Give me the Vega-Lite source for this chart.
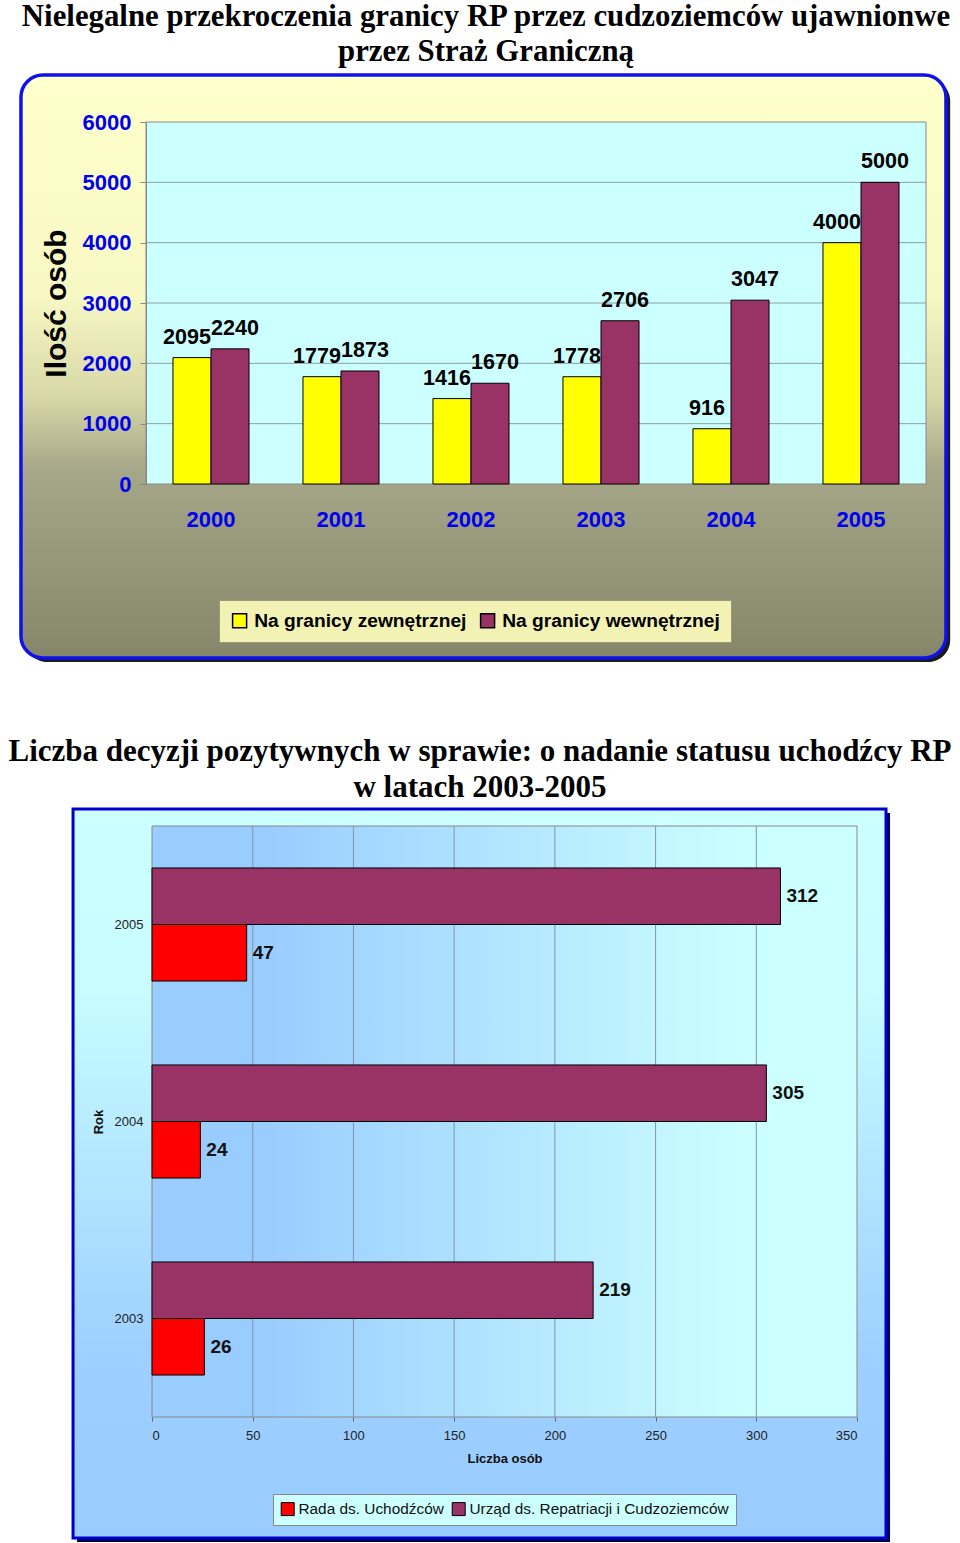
{
  "$schema": "https://vega.github.io/schema/vega-lite/v6.json",
  "background": "white",
  "padding": {"left": 0, "top": 1, "right": 0, "bottom": 0},
  "spacing": 74,
  "center": true,
  "config": {"view": {"stroke": null}, "font": "Liberation Sans"},
  "resolve": {"scale": {"color": "independent"}},
  "datasets": {
    "border": [
      {"year": "2000", "series": "Na granicy zewnętrznej", "value": 2095},
      {"year": "2000", "series": "Na granicy wewnętrznej", "value": 2240},
      {"year": "2001", "series": "Na granicy zewnętrznej", "value": 1779},
      {"year": "2001", "series": "Na granicy wewnętrznej", "value": 1873},
      {"year": "2002", "series": "Na granicy zewnętrznej", "value": 1416},
      {"year": "2002", "series": "Na granicy wewnętrznej", "value": 1670},
      {"year": "2003", "series": "Na granicy zewnętrznej", "value": 1778},
      {"year": "2003", "series": "Na granicy wewnętrznej", "value": 2706},
      {"year": "2004", "series": "Na granicy zewnętrznej", "value": 916},
      {"year": "2004", "series": "Na granicy wewnętrznej", "value": 3047},
      {"year": "2005", "series": "Na granicy zewnętrznej", "value": 4000},
      {"year": "2005", "series": "Na granicy wewnętrznej", "value": 5000}
    ],
    "decyzje": [
      {"year": "2005", "series": "Rada ds. Uchodźców", "value": 47},
      {"year": "2005", "series": "Urząd ds. Repatriacji i Cudzoziemców", "value": 312},
      {"year": "2004", "series": "Rada ds. Uchodźców", "value": 24},
      {"year": "2004", "series": "Urząd ds. Repatriacji i Cudzoziemców", "value": 305},
      {"year": "2003", "series": "Rada ds. Uchodźców", "value": 26},
      {"year": "2003", "series": "Urząd ds. Repatriacji i Cudzoziemców", "value": 219}
    ],
    "grid1": [{"v": 1000}, {"v": 2000}, {"v": 3000}, {"v": 4000}, {"v": 5000}],
    "grid2": [{"v": 50}, {"v": 100}, {"v": 150}, {"v": 200}, {"v": 250}, {"v": 300}],
    "one": [{"k": 1}]
  },
  "vconcat": [
    {
      "title": {
        "text": ["Nielegalne przekroczenia granicy RP przez cudzoziemców ujawnionwe", "przez Straż Graniczną"],
        "font": "Liberation Serif", "fontSize": 30.8, "fontWeight": "bold", "color": "black",
        "lineHeight": 35, "anchor": "middle", "frame": "bounds", "offset": 5
      },
      "width": 780,
      "height": 362,
      "resolve": {"scale": {"x": "independent"}},
      "layer": [
        {
          "data": {"name": "one"},
          "mark": {"type": "rect", "fill": "#ffffff"},
          "encoding": {
            "x": {"datum": -0.17949, "type": "quantitative", "scale": {"domain": [0, 1]}, "axis": null},
            "x2": {"datum": 1.05128},
            "y": {"datum": 6779, "type": "quantitative", "scale": {"domain": [0, 6000]}, "title": "Ilość osób"},
            "y2": {"datum": -2884}
          }
        },
        {
          "data": {"name": "one"},
          "mark": {"type": "rect", "fill": "#1a1a1a", "cornerRadius": 22},
          "encoding": {
            "x": {"datum": -0.155, "type": "quantitative", "scale": {"domain": [0, 1]}, "axis": null},
            "x2": {"datum": 1.031},
            "y": {"datum": 6713, "type": "quantitative", "scale": {"domain": [0, 6000]}, "title": "Ilość osób"},
            "y2": {"datum": -2950}
          }
        },
        {
          "data": {"name": "one"},
          "mark": {
            "type": "rect", "cornerRadius": 22, "stroke": "#1010ee", "strokeWidth": 3.5,
            "fill": {"gradient": "linear", "x1": 0, "y1": 0, "x2": 0, "y2": 1, "stops": [
              {"offset": 0, "color": "#ffffcc"},
              {"offset": 0.38, "color": "#f8f8c4"},
              {"offset": 0.55, "color": "#d8d8a8"},
              {"offset": 0.68, "color": "#a6a688"},
              {"offset": 1, "color": "#86866a"}
            ]}
          },
          "encoding": {
            "x": {"datum": -0.1603, "type": "quantitative", "scale": {"domain": [0, 1]}, "axis": null},
            "x2": {"datum": 1.0256},
            "y": {"datum": 6779, "type": "quantitative", "scale": {"domain": [0, 6000]}, "title": "Ilość osób"},
            "y2": {"datum": -2884}
          }
        },
        {
          "data": {"name": "one"},
          "mark": {"type": "rect", "fill": "#ccffff", "stroke": "#888888", "strokeWidth": 1},
          "encoding": {
            "x": {"datum": 0, "type": "quantitative", "scale": {"domain": [0, 1]}, "axis": null},
            "x2": {"datum": 1},
            "y": {"datum": 0, "type": "quantitative", "scale": {"domain": [0, 6000]}, "title": "Ilość osób"},
            "y2": {"datum": 6000}
          }
        },
        {
          "data": {"name": "grid1"},
          "mark": {"type": "rule", "color": "#8aa0a0", "strokeWidth": 1},
          "encoding": {
            "y": {"field": "v", "type": "quantitative", "scale": {"domain": [0, 6000]}, "title": "Ilość osób"},
            "x": {"datum": 0, "type": "quantitative", "scale": {"domain": [0, 1]}, "axis": null},
            "x2": {"datum": 1}
          }
        },
        {
          "data": {"name": "border"},
          "mark": {"type": "bar", "stroke": "black", "strokeWidth": 1},
          "encoding": {
            "x": {
              "field": "year", "type": "nominal",
              "scale": {"paddingInner": 0.415, "paddingOuter": 0.2075},
              "axis": {
                "title": null, "labelAngle": 0, "ticks": false, "domain": false,
                "labelFont": "Liberation Sans", "labelFontSize": 22, "labelFontWeight": "bold",
                "labelColor": "#0000ee", "labelPadding": 25, "zindex": 1
              }
            },
            "xOffset": {"field": "series", "type": "nominal", "sort": ["Na granicy zewnętrznej", "Na granicy wewnętrznej"]},
            "y": {
              "field": "value", "type": "quantitative", "title": "Ilość osób",
              "scale": {"domain": [0, 6000]},
              "axis": {
                "values": [0, 1000, 2000, 3000, 4000, 5000, 6000], "format": "d", "grid": false,
                "domain": true, "domainColor": "#888888", "ticks": true, "tickColor": "#888888", "tickSize": 6,
                "labelFont": "Liberation Sans", "labelFontSize": 22, "labelFontWeight": "bold",
                "labelColor": "#0000ee", "labelPadding": 9,
                "titleFont": "Liberation Sans", "titleFontSize": 30, "titleFontWeight": "bold",
                "titleColor": "black", "titlePadding": 11, "zindex": 1
              }
            },
            "color": {
              "field": "series", "type": "nominal",
              "scale": {"domain": ["Na granicy zewnętrznej", "Na granicy wewnętrznej"], "range": ["#ffff00", "#993366"]},
              "legend": {
                "title": null, "orient": "none", "legendX": 73, "legendY": 478, "direction": "horizontal",
                "symbolType": "square", "symbolSize": 196, "symbolStrokeColor": "black", "symbolStrokeWidth": 1.5,
                "labelFont": "Liberation Sans", "labelFontSize": 19.2, "labelFontWeight": "bold", "labelColor": "black",
                "labelLimit": 400,
                "fillColor": "#f2f2b4", "strokeColor": "#999977", "padding": 11, "columnPadding": 10,
                "labelOffset": 5, "zindex": 1
              }
            }
          }
        },
        {
          "data": {"name": "border"},
          "transform": [{"filter": "datum.series === 'Na granicy zewnętrznej'"}],
          "mark": {
            "type": "text", "baseline": "bottom", "dy": -9, "dx": -5, "color": "black",
            "font": "Liberation Sans", "fontSize": 21.5, "fontWeight": "bold"
          },
          "encoding": {
            "x": {"field": "year", "type": "nominal", "scale": {"paddingInner": 0.415, "paddingOuter": 0.2075}, "axis": null},
            "xOffset": {"field": "series", "type": "nominal", "sort": ["Na granicy zewnętrznej", "Na granicy wewnętrznej"]},
            "y": {"field": "value", "type": "quantitative", "scale": {"domain": [0, 6000]}, "title": "Ilość osób"},
            "text": {"field": "value", "type": "quantitative"}
          }
        },
        {
          "data": {"name": "border"},
          "transform": [{"filter": "datum.series === 'Na granicy wewnętrznej'"}],
          "mark": {
            "type": "text", "baseline": "bottom", "dy": -9, "dx": 5, "color": "black",
            "font": "Liberation Sans", "fontSize": 21.5, "fontWeight": "bold"
          },
          "encoding": {
            "x": {"field": "year", "type": "nominal", "scale": {"paddingInner": 0.415, "paddingOuter": 0.2075}, "axis": null},
            "xOffset": {"field": "series", "type": "nominal", "sort": ["Na granicy zewnętrznej", "Na granicy wewnętrznej"]},
            "y": {"field": "value", "type": "quantitative", "scale": {"domain": [0, 6000]}, "title": "Ilość osób"},
            "text": {"field": "value", "type": "quantitative"}
          }
        }
      ]
    },
    {
      "title": {
        "text": ["Liczba decyzji pozytywnych w sprawie: o nadanie statusu uchodźcy RP", "w latach 2003-2005"],
        "font": "Liberation Serif", "fontSize": 31, "fontWeight": "bold", "color": "black",
        "lineHeight": 36, "anchor": "middle", "frame": "bounds", "offset": 3
      },
      "width": 705,
      "height": 591,
      "resolve": {"scale": {"y": "independent"}},
      "layer": [
        {
          "data": {"name": "one"},
          "mark": {"type": "rect", "fill": "#ffffff"},
          "encoding": {
            "x": {"datum": -75.46, "type": "quantitative", "scale": {"domain": [0, 350]}, "title": "Liczba osób"},
            "x2": {"datum": 401.13},
            "y": {"datum": 1.0288, "type": "quantitative", "scale": {"domain": [0, 1]}, "axis": null},
            "y2": {"datum": -0.2047}
          }
        },
        {
          "data": {"name": "one"},
          "mark": {"type": "rect", "fill": "#000050"},
          "encoding": {
            "x": {"datum": -37.2, "type": "quantitative", "scale": {"domain": [0, 350]}, "title": "Liczba osób"},
            "x2": {"datum": 366.4},
            "y": {"datum": 1.022, "type": "quantitative", "scale": {"domain": [0, 1]}, "axis": null},
            "y2": {"datum": -0.2115}
          }
        },
        {
          "data": {"name": "one"},
          "mark": {
            "type": "rect", "stroke": "#0000cc", "strokeWidth": 3,
            "fill": {"gradient": "linear", "x1": 0, "y1": 0, "x2": 0, "y2": 1, "stops": [
              {"offset": 0, "color": "#ccffff"},
              {"offset": 0.25, "color": "#c8fcff"},
              {"offset": 0.75, "color": "#9dd0ff"},
              {"offset": 1, "color": "#99ccff"}
            ]}
          },
          "encoding": {
            "x": {"datum": -39.2, "type": "quantitative", "scale": {"domain": [0, 350]}, "title": "Liczba osób"},
            "x2": {"datum": 364.4},
            "y": {"datum": 1.0288, "type": "quantitative", "scale": {"domain": [0, 1]}, "axis": null},
            "y2": {"datum": -0.2047}
          }
        },
        {
          "data": {"name": "one"},
          "mark": {
            "type": "rect", "stroke": "#888888", "strokeWidth": 1,
            "fill": {"gradient": "linear", "x1": 0, "y1": 0, "x2": 1, "y2": 0, "stops": [
              {"offset": 0, "color": "#99ccff"},
              {"offset": 0.15, "color": "#99ccff"},
              {"offset": 0.85, "color": "#ccffff"},
              {"offset": 1, "color": "#ccffff"}
            ]}
          },
          "encoding": {
            "x": {"datum": 0, "type": "quantitative", "scale": {"domain": [0, 350]}, "title": "Liczba osób"},
            "x2": {"datum": 350},
            "y": {"datum": 0, "type": "quantitative", "scale": {"domain": [0, 1]}, "axis": null},
            "y2": {"datum": 1}
          }
        },
        {
          "data": {"name": "grid2"},
          "mark": {"type": "rule", "color": "#8096aa", "strokeWidth": 1},
          "encoding": {
            "x": {"field": "v", "type": "quantitative", "scale": {"domain": [0, 350]}, "title": "Liczba osób"},
            "y": {"datum": 0, "type": "quantitative", "scale": {"domain": [0, 1]}, "axis": null},
            "y2": {"datum": 1}
          }
        },
        {
          "data": {"name": "decyzje"},
          "mark": {"type": "bar", "stroke": "black", "strokeWidth": 1},
          "encoding": {
            "y": {
              "field": "year", "type": "nominal", "sort": "descending", "title": "Rok",
              "scale": {"paddingInner": 0.426, "paddingOuter": 0.213},
              "axis": {
                "ticks": false, "domain": false, "labelPadding": 9,
                "labelFont": "Liberation Sans", "labelFontSize": 13, "labelColor": "#222222",
                "titleFont": "Liberation Sans", "titleFontSize": 13, "titleFontWeight": "bold",
                "titleColor": "#111111", "titlePadding": 9, "zindex": 1
              }
            },
            "yOffset": {"field": "series", "type": "nominal", "sort": ["Urząd ds. Repatriacji i Cudzoziemców", "Rada ds. Uchodźców"]},
            "x": {
              "field": "value", "type": "quantitative", "title": "Liczba osób",
              "scale": {"domain": [0, 350]},
              "axis": {
                "values": [0, 50, 100, 150, 200, 250, 300, 350], "grid": false, "domain": false,
                "ticks": true, "tickSize": 4, "tickColor": "#666666", "labelPadding": 8,
                "labelFont": "Liberation Sans", "labelFontSize": 13, "labelColor": "#222222",
                "titleFont": "Liberation Sans", "titleFontSize": 13, "titleFontWeight": "bold",
                "titleColor": "#111111", "titlePadding": 10, "zindex": 1
              }
            },
            "color": {
              "field": "series", "type": "nominal",
              "scale": {"domain": ["Rada ds. Uchodźców", "Urząd ds. Repatriacji i Cudzoziemców"], "range": ["#ff0000", "#993366"]},
              "legend": {
                "title": null, "orient": "none", "legendX": 121, "legendY": 668, "direction": "horizontal",
                "symbolType": "square", "symbolSize": 169, "symbolStrokeColor": "black", "symbolStrokeWidth": 1,
                "labelFont": "Liberation Sans", "labelFontSize": 15.4, "labelColor": "#111111", "labelLimit": 400,
                "fillColor": "#ccffff", "strokeColor": "#888888", "padding": 7, "columnPadding": 6,
                "labelOffset": 3, "zindex": 1
              }
            }
          }
        },
        {
          "data": {"name": "decyzje"},
          "mark": {
            "type": "text", "align": "left", "baseline": "middle", "dx": 6, "color": "#111111",
            "font": "Liberation Sans", "fontSize": 19, "fontWeight": "bold"
          },
          "encoding": {
            "y": {"field": "year", "type": "nominal", "sort": "descending", "scale": {"paddingInner": 0.426, "paddingOuter": 0.213}, "axis": null},
            "yOffset": {"field": "series", "type": "nominal", "sort": ["Urząd ds. Repatriacji i Cudzoziemców", "Rada ds. Uchodźców"]},
            "x": {"field": "value", "type": "quantitative", "scale": {"domain": [0, 350]}, "title": "Liczba osób"},
            "text": {"field": "value", "type": "quantitative"}
          }
        }
      ]
    }
  ]
}
